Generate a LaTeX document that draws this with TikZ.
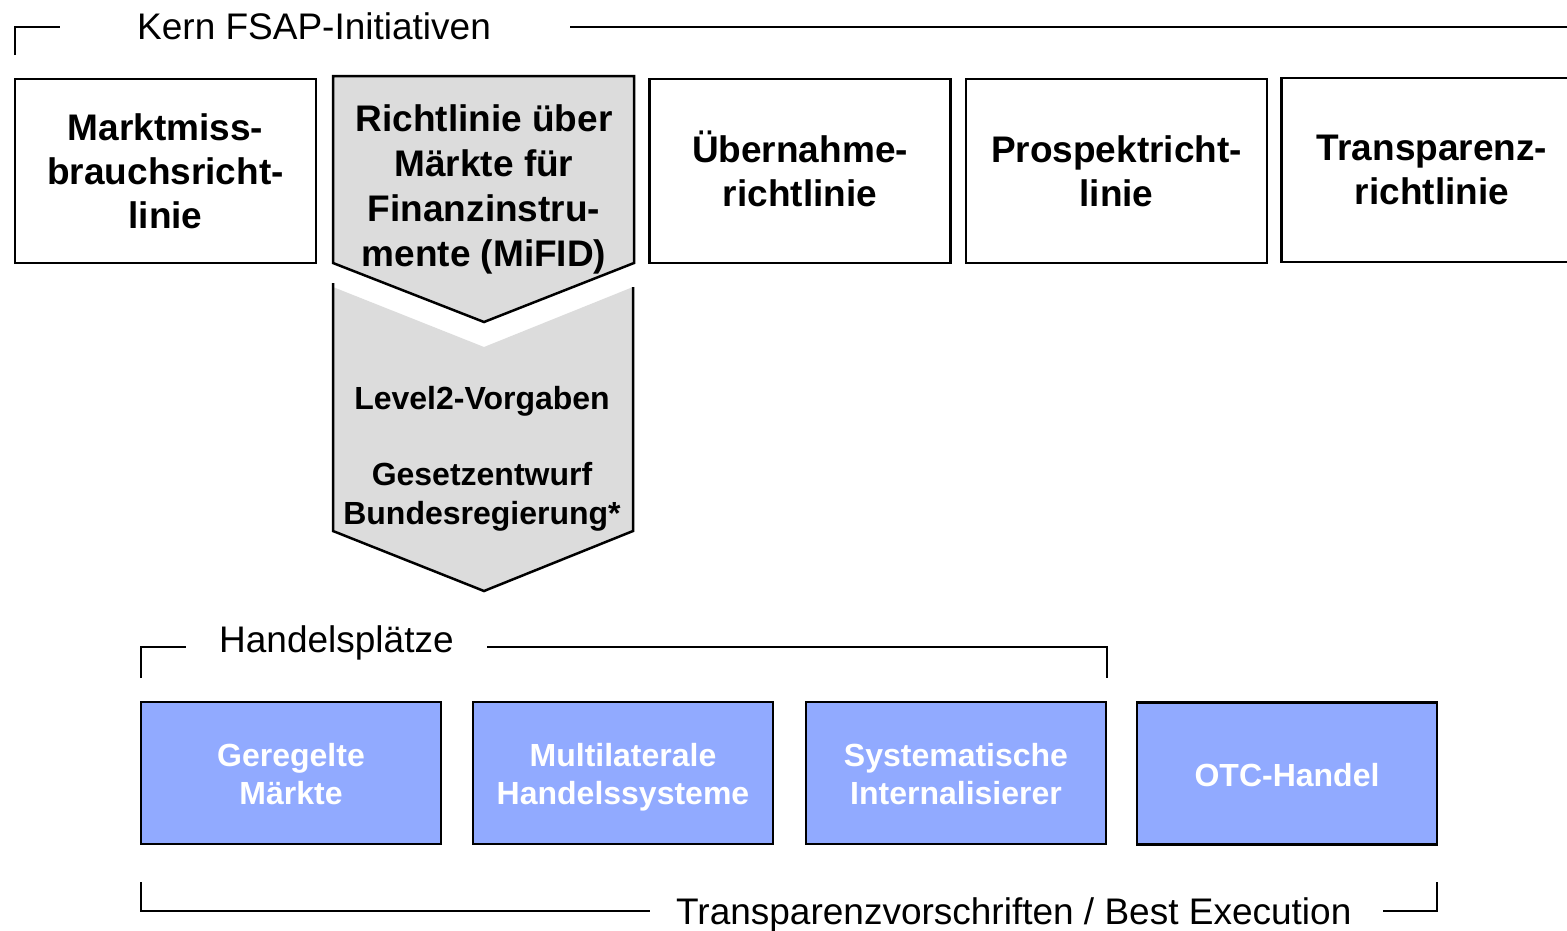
\documentclass[tikz,border=0pt]{standalone}
\usepackage{fontspec}
\setmainfont{Liberation Sans}
\begin{document}
\begin{tikzpicture}[x=1pt,y=-1pt,
  topbox/.style={draw=black,line width=2.5pt,fill=white,minimum width=301pt,minimum height=184pt,
    align=center,inner sep=0pt,font=\fontsize{37}{44}\selectfont\bfseries},
  toptext/.style={align=center,inner sep=0pt,font=\fontsize{37}{44}\selectfont\bfseries},
  bluebox/.style={draw=black,line width=2.5pt,fill=blueboxfill,minimum width=300pt,minimum height=142pt,inner sep=0pt},
  bluetext/.style={align=center,inner sep=0pt,text=white,font=\fontsize{32}{38}\selectfont\bfseries},
  chevtext/.style={align=center,inner sep=0pt},
  headlabel/.style={inner sep=0pt,font=\fontsize{37}{44}\selectfont},
  bracket/.style={draw=black,line width=2pt}]
\definecolor{blueboxfill}{RGB}{145,170,255}
\definecolor{chevgray}{RGB}{220,220,220}
\useasboundingbox (0,0) rectangle (1567,930);

% top bracket
\node[headlabel,anchor=west] (kern) at (137,26) {Kern FSAP-Initiativen};
\coordinate (k1) at (15,55);
\coordinate (k2) at (15,27);
\coordinate (k3) at (60,27);
\coordinate (k4) at (570,27);
\coordinate (k5) at (1567,27);
\draw[bracket] (k1) -- (k2) -- (k3);
\draw[bracket] (k4) -- (k5);

% top boxes
\node[topbox] (mar) at (165.5,171) {Marktmiss-\\brauchsricht-\\linie};
\node[topbox] (ueb) at (800,171) {};
\node[toptext] (uebt) at (800,169) {Übernahme-\\richtlinie};
\node[topbox] (pro) at (1116.5,171) {Prospektricht-\\linie};
\node[topbox] (tra) at (1432,170) {Transparenz-\\richtlinie};

% lower chevron
\fill[chevgray] (333,287) -- (484,347) -- (633,287) -- (633,531) -- (484,591) -- (333,531) -- cycle;
\draw[line width=2.5pt,line join=miter] (333,283) -- (333,531) -- (484,591) -- (633,531) -- (633,287);
% upper chevron
\draw[line width=2.5pt,fill=chevgray,line join=miter] (333,76) -- (634,76) -- (634,263) -- (484,322) -- (333,263) -- cycle;

\node[chevtext,font=\fontsize{37}{45}\selectfont\bfseries] (mifid) at (484,189) {Richtlinie über\\Märkte für\\Finanzinstru-\\mente (MiFID)};
\node[chevtext,font=\fontsize{32}{39}\selectfont\bfseries] (lev) at (482,401) {Level2-Vorgaben};
\node[chevtext,font=\fontsize{32}{39}\selectfont\bfseries] (ges) at (482,497) {Gesetzentwurf\\Bundesregierung*};

% Handelsplaetze bracket
\node[headlabel,anchor=west] (hp) at (219,643) {Handelsplätze};
\coordinate (h1) at (141,678);
\coordinate (h2) at (141,647);
\coordinate (h3) at (186,647);
\coordinate (h4) at (487,647);
\coordinate (h5) at (1107,647);
\coordinate (h6) at (1107,678);
\draw[bracket] (h1) -- (h2) -- (h3);
\draw[bracket] (h4) -- (h5) -- (h6);

% blue boxes
\node[bluebox] (geg) at (291,773) {};
\node[bluebox] (mul) at (623,773) {};
\node[bluebox] (sys) at (956,773) {};
\node[bluebox] (otc) at (1287,773.5) {};
\node[bluetext] (gegt) at (291,774) {Geregelte\\Märkte};
\node[bluetext] (mult) at (623,777) {Multilaterale\\Handelssysteme};
\node[bluetext] (syst) at (956,774) {Systematische\\Internalisierer};
\node[bluetext] (otct) at (1287,775.5) {OTC-Handel};

% bottom bracket
\node[headlabel,anchor=west] (tb) at (676,915) {Transparenzvorschriften / Best Execution};
\coordinate (b1) at (141,882);
\coordinate (b2) at (141,911);
\coordinate (b3) at (650,911);
\coordinate (b4) at (1383,911);
\coordinate (b5) at (1437,911);
\coordinate (b6) at (1437,882);
\draw[bracket] (b1) -- (b2) -- (b3);
\draw[bracket] (b4) -- (b5) -- (b6);
\end{tikzpicture}
\end{document}
